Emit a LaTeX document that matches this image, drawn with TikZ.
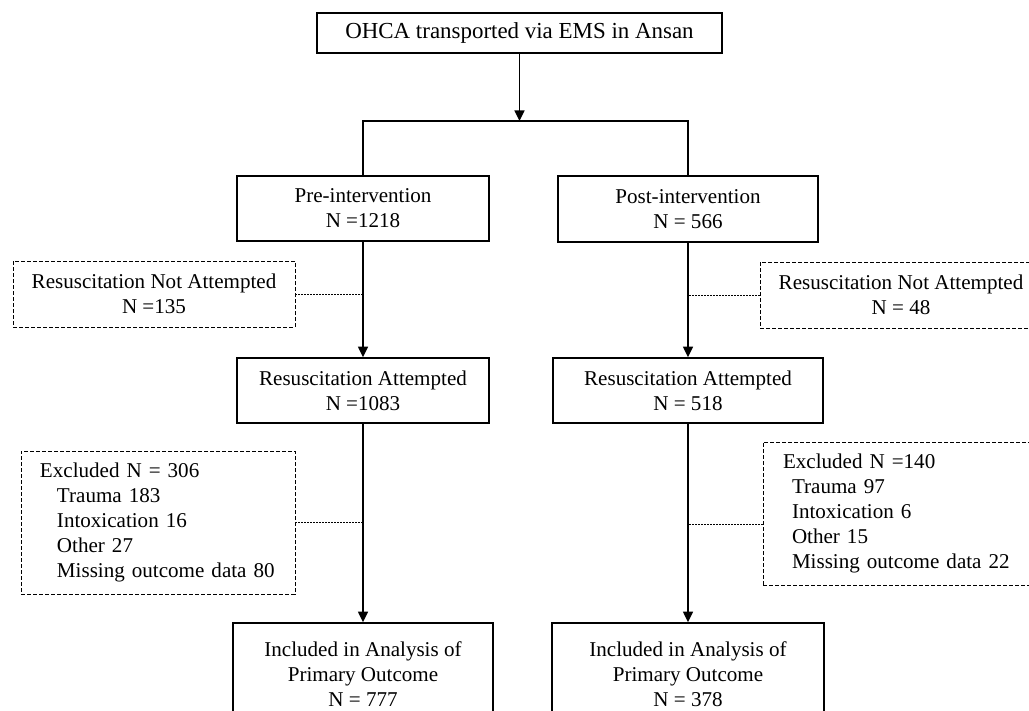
\documentclass[tikz,border=0pt]{standalone}
\usepackage{fontspec}
\setmainfont{Liberation Serif}
\usetikzlibrary{arrows.meta, positioning}
\newcommand{\flowfont}{\fontsize{15.8pt}{18.6pt}\selectfont}
\newcommand{\topfont}{\fontsize{17.2pt}{20pt}\selectfont}

\begin{document}
\begin{tikzpicture}[x=0.75pt, y=-0.75pt,
  box/.style={draw, line width=1.2pt, align=center, inner sep=0pt, font=\flowfont},
  dbox/.style={draw, line width=0.7pt, dash pattern=on 3pt off 1.5pt, inner sep=0pt, font=\flowfont},
  arr/.style={line width=1.2pt, -{Triangle[length=8pt, width=7.5pt]}},
  link/.style={line width=1.2pt},
  dlink/.style={line width=0.6pt, dash pattern=on 1.5pt off 0.75pt}]
  \useasboundingbox (0,0) rectangle (1029,711);
  \clip (0,0) rectangle (1029,711);
  % main flow
  \node[box, font=\topfont, minimum width=303.75pt, minimum height=30pt] (top) at (519.5,33) {OHCA transported via EMS in Ansan};
  \coordinate (split) at (519.5,121);
  \node[box, minimum width=189pt, minimum height=48.75pt] (pre) at (363,208.5) {Pre-intervention\\N =1218};
  \node[box, minimum width=195pt, minimum height=49.5pt] (post) at (688,209) {Post-intervention\\N = 566};
  \node[box, minimum width=189pt, minimum height=48.75pt] (resA) at (363,390.5) {Resuscitation Attempted\\N =1083};
  \node[box, minimum width=202.5pt, minimum height=48.75pt] (resB) at (688,390.5) {Resuscitation Attempted\\N = 518};
  \node[box, minimum width=195pt, minimum height=76.5pt] (incA) at (363,674) {Included in Analysis of\\Primary Outcome\\N = 777};
  \node[box, minimum width=204pt, minimum height=76.5pt] (incB) at (688,674) {Included in Analysis of\\Primary Outcome\\N = 378};
  % side boxes
  \node[dbox, align=center, minimum width=211.5pt, minimum height=49.5pt] (notA) at (154,294) {Resuscitation Not Attempted\\N =135};
  \node[dbox, align=center, minimum width=211.5pt, minimum height=49.5pt] (notB) at (901,295) {Resuscitation Not Attempted\\N = 48};
  \node[dbox, align=left, text width=177pt, inner xsep=14.25pt, minimum height=107.25pt] (excA) at (158,522.5)
    {Excluded N = 306\\\hspace*{12.75pt}Trauma 183\\\hspace*{12.75pt}Intoxication 16\\\hspace*{12.75pt}Other 27\\\hspace*{12.75pt}Missing outcome data 80};
  \node[dbox, align=left, text width=181.5pt, inner xsep=15pt, minimum height=107.25pt] (excB) at (904,513.5)
    {Excluded N =140\\\hspace*{6.75pt}Trauma 97\\\hspace*{6.75pt}Intoxication 6\\\hspace*{6.75pt}Other 15\\\hspace*{6.75pt}Missing outcome data 22};
  % connectors
  \draw[arr] (top) -- (split);
  \draw[link] (pre) -- (pre |- split) -- (post |- split) -- (post);
  \draw[arr] (pre) -- (resA);
  \draw[arr] (post) -- (resB);
  \draw[arr] (resA) -- (incA);
  \draw[arr] (resB) -- (incB);
  \draw[dlink] (notA) -- (notA -| pre);
  \draw[dlink] (notB) -- (notB -| post);
  \draw[dlink] (excA) -- (excA -| resA);
  \draw[dlink] ([yshift=-8.25pt]excB.west) -- ([yshift=-8.25pt]excB.west -| resB);
\end{tikzpicture}
\end{document}
